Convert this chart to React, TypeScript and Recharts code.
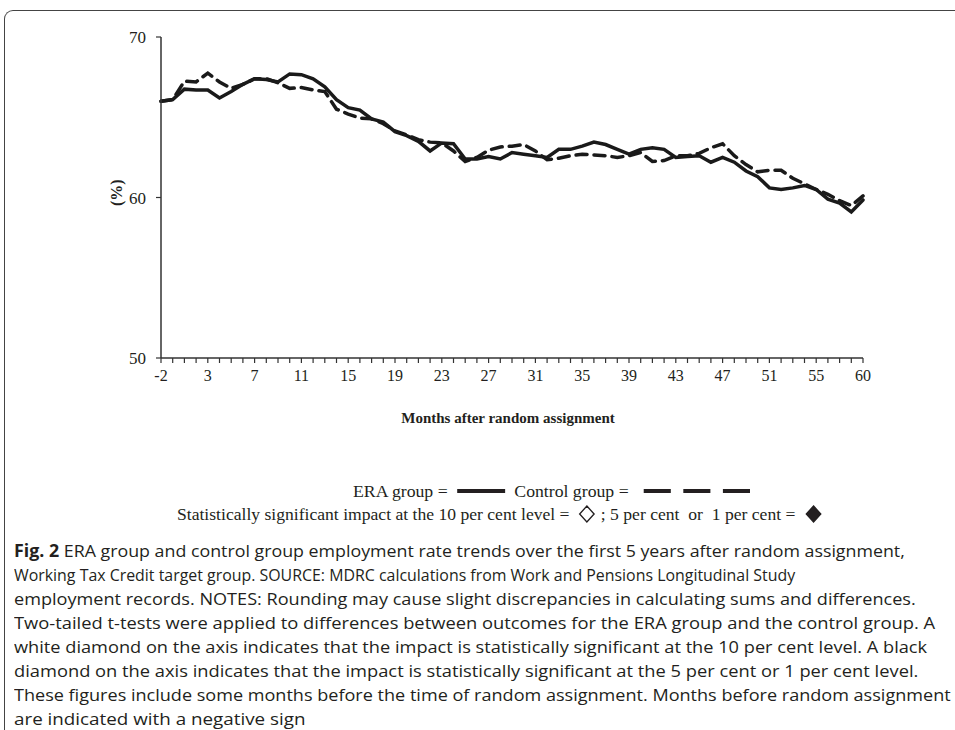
import React, { useLayoutEffect, useRef, useState } from 'react';
import { LineChart, Line, XAxis, YAxis } from 'recharts';

// x positions are month slots 0..60, labelled every 4th slot
const monthLabels = ['-2', '3', '7', '11', '15', '19', '23', '27', '31', '35', '39', '43', '47', '51', '55', '60'];
const labelSlots = [0, 4, 8, 12, 16, 20, 24, 28, 32, 36, 40, 44, 48, 52, 56, 60];

const eraGroup = [
  66.0, 66.1, 66.75, 66.7, 66.7, 66.2, 66.6, 67.05, 67.4, 67.35,
  67.2, 67.7, 67.65, 67.4, 66.9, 66.1, 65.6, 65.45, 64.9, 64.7,
  64.1, 63.85, 63.5, 62.9, 63.4, 63.35, 62.4, 62.4, 62.55, 62.4,
  62.8, 62.7, 62.6, 62.5, 63.0, 63.0, 63.2, 63.45, 63.3, 63.0,
  62.7, 63.0, 63.1, 63.0, 62.5, 62.55, 62.6, 62.2, 62.5, 62.2,
  61.65, 61.3, 60.6, 60.5, 60.6, 60.75, 60.5, 59.9, 59.65, 59.1,
  59.85,
];

const controlGroup = [
  66.0, 66.1, 67.25, 67.2, 67.75, 67.2, 66.8, 67.05, 67.4, 67.4,
  67.15, 66.8, 66.85, 66.7, 66.6, 65.5, 65.2, 64.95, 64.9, 64.6,
  64.15, 63.9, 63.6, 63.45, 63.4, 62.9, 62.25, 62.5, 62.95, 63.15,
  63.2, 63.3, 62.9, 62.35, 62.45, 62.6, 62.7, 62.65, 62.6, 62.5,
  62.6, 62.8, 62.25, 62.3, 62.6, 62.6, 62.75, 63.1, 63.35, 62.6,
  62.05, 61.6, 61.7, 61.7, 61.2, 60.85, 60.5, 60.2, 59.8, 59.5,
  60.1,
];

const yTicks = [50, 60, 70];

const data = eraGroup.map((v, i) => ({ slot: i, era: v, control: controlGroup[i] }));
const slotTicks = data.map((d) => d.slot);

const serif = '"Liberation Serif", "Times New Roman", serif';
const sans = '"Open Sans", "Noto Sans", sans-serif';
const ink = '#231f20';

const captionLines = [
  'ERA group and control group employment rate trends over the first 5 years after random assignment,',
  'Working Tax Credit target group. SOURCE: MDRC calculations from Work and Pensions Longitudinal Study',
  'employment records. NOTES: Rounding may cause slight discrepancies in calculating sums and differences.',
  'Two-tailed t-tests were applied to differences between outcomes for the ERA group and the control group. A',
  'white diamond on the axis indicates that the impact is statistically significant at the 10 per cent level. A black',
  'diamond on the axis indicates that the impact is statistically significant at the 5 per cent or 1 per cent level.',
  'These figures include some months before the time of random assignment. Months before random assignment',
  'are indicated with a negative sign',
];
// right edge of each caption line in the reference
const captionEnds = [905, 795, 916, 935, 927, 918, 951, 306];

// squeeze a single line of text to a given width
function FitLine({ width, children }: { width: number; children: React.ReactNode }) {
  const ref = useRef<HTMLSpanElement>(null);
  const [sx, setSx] = useState(1);
  useLayoutEffect(() => {
    if (ref.current && ref.current.offsetWidth > 0) setSx(width / ref.current.offsetWidth);
  }, [width]);
  return (
    <span
      ref={ref}
      style={{
        display: 'inline-block', whiteSpace: 'nowrap',
        transformOrigin: 'left center', transform: `scaleX(${sx})`,
      }}
    >
      {children}
    </span>
  );
}

function Diamond({ filled }: { filled: boolean }) {
  return (
    <svg width='18' height='18' viewBox='0 0 18 18' style={{ verticalAlign: -3, margin: '0 4px' }}>
      <polygon points='9,1 16,9 9,17 2,9' fill={filled ? ink : '#fff'} stroke={ink} strokeWidth={1.3} />
    </svg>
  );
}

const bar = (w: number, m: string) => (
  <span style={{ display: 'inline-block', width: w, height: 4, background: ink, verticalAlign: 4, margin: m }} />
);

export default function App() {
  return (
    <div style={{ position: 'fixed', left: 0, top: 0, width: 955, height: 730, background: '#fff', overflow: 'hidden' }}>
      <div
        style={{
          position: 'absolute', left: 4, top: 10, width: 1000, height: 800,
          borderTop: '1.5px solid #444', borderLeft: '1.5px solid #444', borderTopLeftRadius: 9,
        }}
      />
      <div style={{ position: 'absolute', left: 0, top: 0 }}>
        <LineChart width={955} height={420} data={data} margin={{ top: 37, right: 92, left: 101, bottom: 32 }}>
          <XAxis
            dataKey='slot'
            type='number'
            domain={[0, 60]}
            ticks={slotTicks}
            interval={0}
            tickSize={5}
            tickMargin={7}
            height={30}
            tickFormatter={(v: number) => {
              const k = labelSlots.indexOf(v);
              return k >= 0 ? monthLabels[k] : '';
            }}
            axisLine={{ stroke: '#333', strokeWidth: 1.5 }}
            tickLine={{ stroke: '#333', strokeWidth: 1.2 }}
            tick={{ fill: ink, fontFamily: serif, fontSize: 16 }}
          />
          <YAxis
            type='number'
            domain={[50, 70]}
            ticks={yTicks}
            width={60}
            tickSize={5}
            tickMargin={10}
            axisLine={{ stroke: '#333', strokeWidth: 1.5 }}
            tickLine={{ stroke: '#333', strokeWidth: 1.2 }}
            tick={{ fill: ink, fontFamily: serif, fontSize: 17 }}
          />
          <Line
            dataKey='control'
            type='linear'
            stroke='#1a1a1a'
            strokeWidth={3.5}
            strokeDasharray='11 7'
            strokeLinecap='round'
            dot={false}
            isAnimationActive={false}
          />
          <Line
            dataKey='era'
            type='linear'
            stroke='#1a1a1a'
            strokeWidth={3.5}
            strokeLinecap='round'
            dot={false}
            isAnimationActive={false}
          />
        </LineChart>
      </div>

      <div
        style={{
          position: 'absolute', left: 107, top: 187, width: 20, textAlign: 'center',
          transform: 'rotate(-90deg)', fontFamily: serif, fontWeight: 'bold', fontSize: 16, color: ink,
        }}
      >
        (%)
      </div>
      <div
        style={{
          position: 'absolute', left: 0, width: 1016, top: 410, textAlign: 'center',
          fontFamily: serif, fontWeight: 'bold', fontSize: 15, color: ink,
        }}
      >
        Months after random assignment
      </div>

      <div style={{ position: 'absolute', left: 353, top: 481, fontFamily: serif, fontSize: 17, lineHeight: '22px', color: ink }}>
        <FitLine width={397}>
          ERA group =
          {bar(46, '0 9px')}
          Control group =
          {bar(26, '0 6px 0 14px')}
          {bar(26, '0 6px')}
          {bar(26, '0 0 0 6px')}
        </FitLine>
      </div>
      <div style={{ position: 'absolute', left: 177, top: 504, fontFamily: serif, fontSize: 17, lineHeight: '22px', color: ink }}>
        <FitLine width={650}>
          Statistically significant impact at the 10 per cent level = <Diamond filled={false} />; 5 per cent&nbsp; or&nbsp; 1 per cent = <Diamond filled />
        </FitLine>
      </div>

      <div
        style={{
          position: 'absolute', left: 14, top: 539, fontFamily: sans,
          fontSize: 17, lineHeight: '24px', color: ink,
        }}
      >
        {captionLines.map((line, i) => (
          <div key={i} style={{ height: 24 }}>
            <FitLine width={captionEnds[i] - 14}>
              {i === 0 ? <b>Fig. 2 </b> : null}
              {line}
            </FitLine>
          </div>
        ))}
      </div>
    </div>
  );
}
